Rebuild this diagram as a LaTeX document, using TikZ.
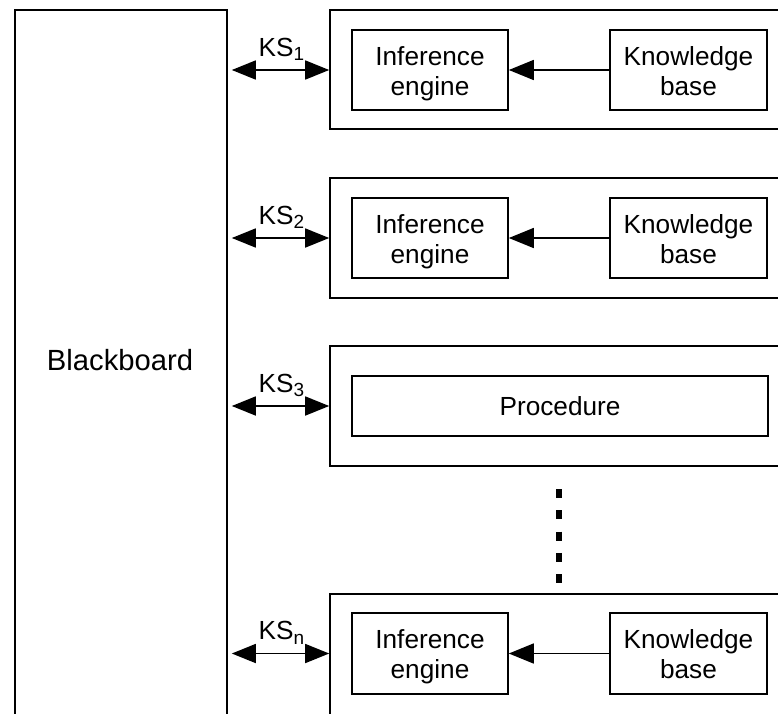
\documentclass[tikz,border=0pt]{standalone}
\usepackage{fontspec}
\setmainfont{Liberation Sans}
\usetikzlibrary{arrows.meta,calc}
\newcommand{\kssub}[1]{\raisebox{-4.5pt}{\fontsize{19}{20}\selectfont #1}}
\newcommand{\twoline}[2]{\raisebox{-4pt}[\height][\depth]{\begin{tabular}{@{}c@{}}#1\\#2\end{tabular}}}
\begin{document}
\begin{tikzpicture}[x=1pt,y=-1pt,
  frame/.style={draw, line width=1.6pt, rectangle, inner sep=0pt},
  box/.style={draw, line width=1.6pt, rectangle, inner sep=0pt, align=center,
    font=\fontsize{26.2}{30}\selectfont},
  txt/.style={inner sep=0pt, font=\fontsize{26.2}{30}\selectfont},
  arr/.style={line width=1.6pt, -{Triangle[length=25pt,width=20pt]}},
  darr/.style={line width=1.6pt, {Triangle[length=24pt,width=19pt]}-{Triangle[length=24pt,width=19pt]}, shorten <=4pt},
  kslab/.style={inner sep=0pt, anchor=base, yshift=14pt, xshift=3pt, font=\fontsize{26.2}{32}\selectfont},
  dotline/.style={line width=6pt, dash pattern=on 9pt off 12.25pt}]
\useasboundingbox (0,0) rectangle (778,713);
\clip (0,0) rectangle (778,713);

% Blackboard
\node[frame, minimum width=212pt, minimum height=715pt] (bb) at (121,367.5) {};
\node[txt, font=\fontsize{29.2}{34}\selectfont] (bbtext) at (120,360) {Blackboard};

% Knowledge source frames (open on the right)
\node[frame, minimum width=465pt, minimum height=119pt] (ks1) at (562.5,69.5) {};
\node[frame, minimum width=465pt, minimum height=120pt] (ks2) at (562.5,238) {};
\node[frame, minimum width=465pt, minimum height=120pt] (ks3) at (562.5,406) {};
\node[frame, minimum width=465pt, minimum height=136pt] (ksn) at (562.5,662) {};

% Inner boxes
\node[box, minimum width=156pt, minimum height=80pt] (ie1) at (430,70) {\twoline{Inference}{engine}};
\node[box, minimum width=157pt, minimum height=80pt] (kb1) at (688.5,70) {\twoline{Knowledge}{base}};
\node[box, minimum width=156pt, minimum height=80pt] (ie2) at (430,238) {\twoline{Inference}{engine}};
\node[box, minimum width=157pt, minimum height=80pt] (kb2) at (688.5,238) {\twoline{Knowledge}{base}};
\node[box, minimum width=416pt, minimum height=60pt] (proc) at (560,406) {Procedure};
\node[box, minimum width=156pt, minimum height=81pt] (ien) at (430,653.5) {\twoline{Inference}{engine}};
\node[box, minimum width=157pt, minimum height=81pt] (kbn) at (688.5,653.5) {\twoline{Knowledge}{base}};

% Knowledge base -> inference engine
\draw[arr] (kb1) -- (ie1);
\draw[arr] (kb2) -- (ie2);
\draw[arr] (kbn) -- (ien);

% Blackboard <-> knowledge sources
\draw[darr] (bb.east |- ie1.west) -- (ks1.west |- ie1.west) node[kslab, midway] {KS\kssub{1}};
\draw[darr] (bb.east |- ie2.west) -- (ks2.west |- ie2.west) node[kslab, midway] {KS\kssub{2}};
\draw[darr] (bb.east |- proc.west) -- (ks3.west |- proc.west) node[kslab, midway] {KS\kssub{3}};
\draw[darr] (bb.east |- ien.west) -- (ksn.west |- ien.west) node[kslab, midway] {KS\kssub{n}};

% Vertical dots
\coordinate (d1) at (559,489);
\coordinate (d2) at (559,583);
\draw[dotline] (d1) -- (d2);
\end{tikzpicture}
\end{document}
